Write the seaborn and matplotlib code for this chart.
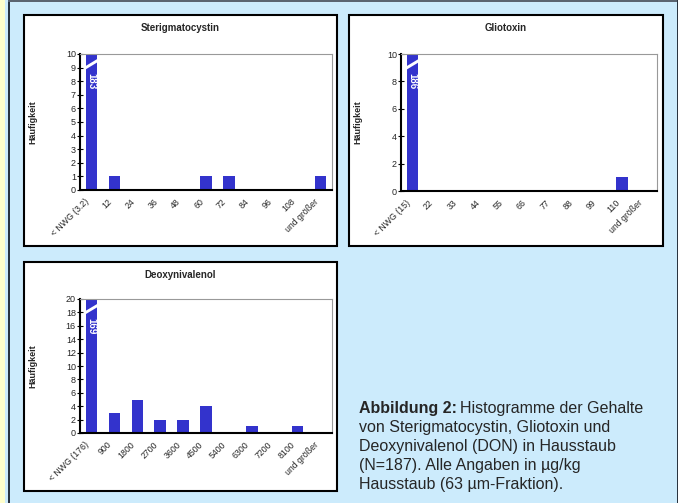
import numpy as np
import seaborn as sns
import matplotlib.pyplot as plt
from matplotlib.patches import Rectangle, Polygon
import matplotlib.transforms as mtransforms

# Data (counts per class, N=187)
stc_labels = ["< NWG (3.2)", "12", "24", "36", "48", "60", "72", "84", "96", "108", "und größer"]
stc_counts = [183, 1, 0, 0, 0, 1, 1, 0, 0, 0, 1]

glio_labels = ["< NWG (15)", "22", "33", "44", "55", "66", "77", "88", "99", "110", "und größer"]
glio_counts = [186, 0, 0, 0, 0, 0, 0, 0, 0, 1, 0]

don_labels = ["< NWG (176)", "900", "1800", "2700", "3600", "4500", "5400", "6300", "7200", "8100", "und größer"]
don_counts = [169, 3, 5, 2, 2, 4, 0, 1, 0, 1, 0]

W, H = 678, 503
BG = "#CCEBFC"
BAR = "#3333CC"

sns.set_style("white")
plt.rcParams["font.family"] = ["Liberation Sans", "DejaVu Sans"]

fig = plt.figure(figsize=(W / 100, H / 100), dpi=100)
fig.patch.set_facecolor(BG)


def px_rect(x0, y0, x1, y1):
    # pixel box (top-left origin) -> figure fraction [l, b, w, h]
    return [x0 / W, 1 - y1 / H, (x1 - x0) / W, (y1 - y0) / H]


# page decoration
fig.add_artist(Rectangle((0, 0), 5 / W, 1, transform=fig.transFigure,
                         facecolor="#FFFFCC", edgecolor="none", zorder=-2))
fig.add_artist(Rectangle((8 / W, 0), 1.5 / W, 1, transform=fig.transFigure,
                         facecolor="#2A3440", edgecolor="none", zorder=-2))
fig.add_artist(Rectangle((8 / W, 1 - 2 / H), 1, 2 / H, transform=fig.transFigure,
                         facecolor="#5A6470", edgecolor="none", zorder=-2))
fig.add_artist(Rectangle((1 - 1.5 / W, 0), 1.5 / W, 1, transform=fig.transFigure,
                         facecolor="#2A3440", edgecolor="none", zorder=-2))


def panel(box, axbox, title, labels, counts, ymax, ystep):
    l, b, w, h = px_rect(*box)
    fig.add_artist(Rectangle((l, b), w, h, transform=fig.transFigure,
                             facecolor="white", edgecolor="black", linewidth=1.5, zorder=-1))
    fig.text(l + w / 2, 1 - (box[1] + 13) / H, title, ha="center", va="center",
             fontsize=7, fontweight="bold")

    ax = fig.add_axes(px_rect(*axbox))
    sns.barplot(x=labels, y=counts, color=BAR, width=0.5, saturation=1,
                edgecolor="none", linewidth=0, ax=ax)
    ax.set_ylim(0, ymax)
    ax.set_xlim(-0.5, len(labels) - 0.5)
    ax.set_yticks(np.arange(0, ymax + 1, ystep))
    ax.set_xticks(np.arange(len(labels)))
    ax.set_xticks(np.arange(len(labels) + 1) - 0.5, minor=True)
    ax.set_xticklabels(labels, rotation=45, ha="right", va="top", rotation_mode="anchor")
    ax.tick_params(axis="x", which="major", length=0, pad=5, labelsize=6.3)
    ax.tick_params(axis="x", which="minor", direction="inout", length=4, width=0.8, color="black")
    ax.tick_params(axis="y", direction="inout", length=4, width=0.8, color="black",
                   labelsize=6.5, pad=1, left=True)
    for lab in ax.get_xticklabels():
        lab.set_transform(lab.get_transform() + mtransforms.ScaledTranslation(-5 / 72, 0, fig.dpi_scale_trans))
    ax.set_xlabel("")
    ax.set_ylabel("Häufigkeit", fontsize=6.5, fontweight="bold")
    ax.yaxis.set_label_coords(-(axbox[0] - box[0] - 13) / (axbox[2] - axbox[0]), 0.5)
    for s in ("left", "bottom"):
        ax.spines[s].set_color("black")
        ax.spines[s].set_linewidth(1.5)
    for s in ("top", "right"):
        ax.spines[s].set_color("#999999")
        ax.spines[s].set_linewidth(0.8)

    # broken first bar with its value
    bar = ax.patches[0]
    x0, x1 = bar.get_x(), bar.get_x() + bar.get_width()
    tr = mtransforms.blended_transform_factory(ax.transData, ax.transAxes)
    ax.add_patch(Polygon([(x0 - 0.02, 0.885), (x1 + 0.02, 0.94), (x1 + 0.02, 0.965), (x0 - 0.02, 0.91)],
                         closed=True, facecolor="white", edgecolor="none", transform=tr, zorder=5))
    ax.text((x0 + x1) / 2, 0.8, str(counts[0]), transform=tr, rotation=-90,
            ha="center", va="center", color="white", fontsize=7, fontweight="bold", zorder=6)
    return ax


panel((24, 15, 337, 246), (80, 54, 332, 190), "Sterigmatocystin", stc_labels, stc_counts, 10, 1)
panel((349, 15, 663, 246), (401, 54, 657, 191), "Gliotoxin", glio_labels, glio_counts, 10, 2)
panel((24, 262, 337, 491), (80, 299, 332, 433), "Deoxynivalenol", don_labels, don_counts, 20, 2)

# caption
FS = 11.5
cap_x, cap_y = 359 / W, 1 - 408 / H
t = fig.text(cap_x, cap_y, "Abbildung 2:", fontsize=FS, fontweight="bold", va="center", ha="left")
fig.canvas.draw()
bb = t.get_window_extent()
fig.text(bb.x1 / W + 3 / W, cap_y, "Histogramme der Gehalte", fontsize=FS, va="center", ha="left")
rest = ["von Sterigmatocystin, Gliotoxin und",
        "Deoxynivalenol (DON) in Hausstaub",
        "(N=187). Alle Angaben in µg/kg",
        "Hausstaub (63 µm-Fraktion)."]
for i, line in enumerate(rest):
    fig.text(cap_x, cap_y - (i + 1) * 19.2 / H, line, fontsize=FS, va="center", ha="left")

fig.savefig("out.png", dpi=100, facecolor=BG)
